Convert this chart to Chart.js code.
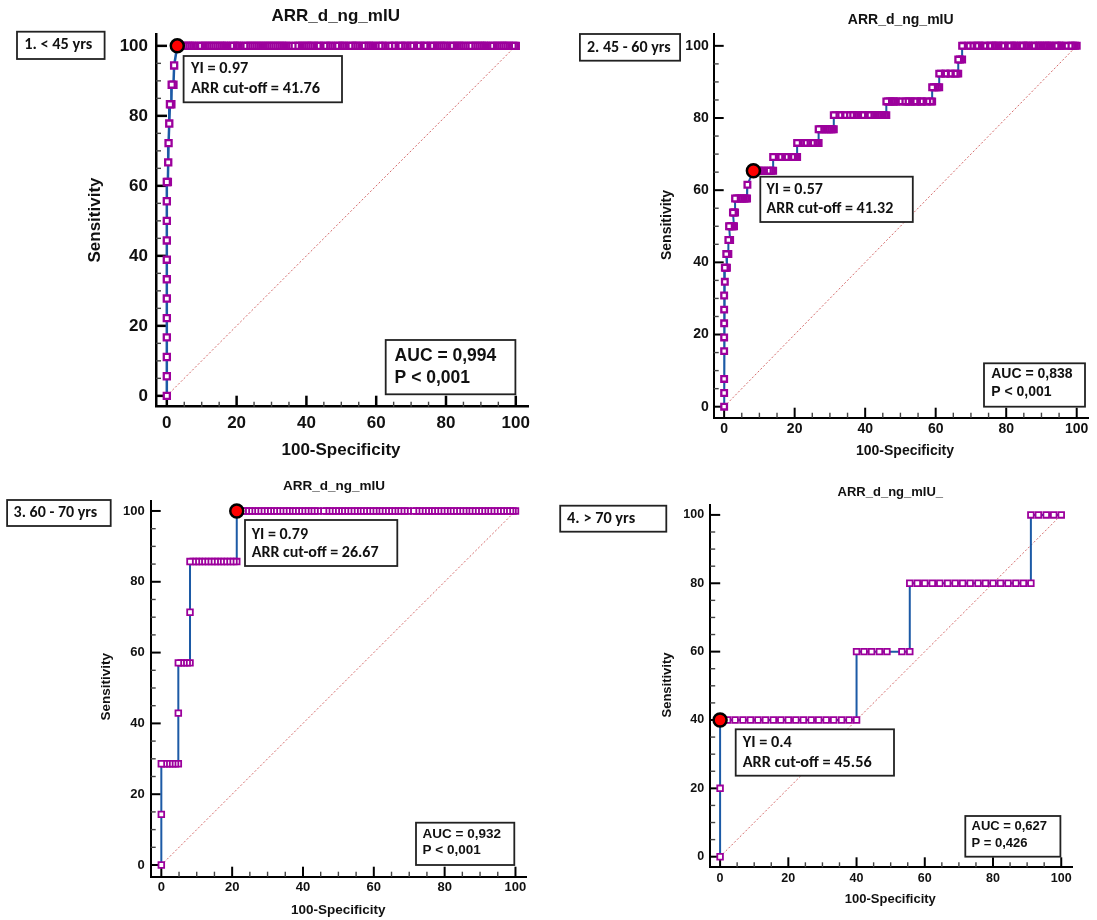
<!DOCTYPE html>
<html>
<head>
<meta charset="utf-8">
<title>ROC curves of ARR by age group</title>
<script src="https://cdn.jsdelivr.net/npm/chart.js@4.4.1/dist/chart.umd.min.js"></script>
<style>
  html, body { margin: 0; padding: 0; background: #fff; }
  #page { position: relative; width: 1097px; height: 920px; overflow: hidden; background: #fff; }
  #page canvas { position: absolute; }
</style>
</head>
<body>
<div id="page">
  <canvas id="roc1" width="548" height="460" style="left:0px;top:0px"></canvas>
  <canvas id="roc2" width="549" height="460" style="left:548px;top:0px"></canvas>
  <canvas id="roc3" width="548" height="460" style="left:0px;top:460px"></canvas>
  <canvas id="roc4" width="549" height="460" style="left:548px;top:460px"></canvas>
</div>
<script>
// ---- Texts ----
const ageGroups = ['1. < 45 yrs', '2. 45 - 60 yrs', '3. 60 - 70 yrs', '4. > 70 yrs'];
const variableNames = ['ARR_d_ng_mIU', 'ARR_d_ng_mIU', 'ARR_d_ng_mIU', 'ARR_d_ng_mIU_'];
const youdenIndex = ['0.97', '0.57', '0.79', '0.4'];
const arrCutoff = ['41.76', '41.32', '26.67', '45.56'];
const aucValues = ['0,994', '0,838', '0,932', '0,627'];
const pValues = ['P < 0,001', 'P < 0,001', 'P < 0,001', 'P = 0,426'];
const xAxisTitle = '100-Specificity';
const yAxisTitle = 'Sensitivity';
const axisTickValues = [0, 20, 40, 60, 80, 100];
const axisTickLabels = ['0', '20', '40', '60', '80', '100'];
const minorTickStep = 5;

// ---- Optimal criterion (Youden) points: 100-Specificity, Sensitivity ----
const optimalFpr = [3.0, 8.3, 21.3, 0];
const optimalSens = [100, 65.4, 100, 40];

// ---- ROC coordinates: [sensitivity, [100-specificity values at that sensitivity]] ----
const rocUnder45 = [
  [0, [0]], [5.6, [0]], [11.1, [0]], [16.7, [0]], [22.2, [0]], [27.8, [0]],
  [33.3, [0]], [38.9, [0]], [44.4, [0]], [50, [0]], [55.6, [0]],
  [61.1, [0, 0.3]], [66.7, [0.4]], [72.2, [0.5]], [77.8, [0.7]],
  [83.3, [0.9, 1.3]], [88.9, [1.4, 1.9]], [94.4, [2.1]],
  [100, [3.0, 3.6, 4.2, 4.8, 5.4, 6.0, 6.6, 7.1, 7.6, 8.1, 9.2, 9.8, 10.4, 11.0, 11.6, 12.2, 12.8, 13.4,
         14.0, 14.6, 15.2, 15.8, 16.4, 16.9, 17.3, 18.4, 19.0, 19.6, 20.1, 20.6, 21.1, 22.2, 22.8, 23.4,
         24.0, 24.6, 25.2, 25.8, 26.4, 27.0, 27.6, 28.2, 28.8, 29.4, 30.0, 30.6, 31.2, 31.8, 32.4, 33.0,
         33.6, 34.2, 34.9, 36.0, 37.0, 37.6, 38.2, 38.8, 39.4, 40.0, 40.6, 41.2, 41.6, 42.1, 43.2, 43.6,
         44.0, 45.1, 45.7, 46.3, 46.9, 47.4, 48.5, 49.1, 49.7, 50.3, 50.7, 51.2, 52.3, 52.9, 53.5, 54.1,
         54.5, 55.0, 56.1, 56.7, 57.3, 57.9, 58.5, 59.1, 59.8, 60.9, 61.5, 62.0, 62.6, 63.7, 64.7, 65.1,
         65.5, 66.6, 67.2, 67.8, 68.3, 68.9, 70.0, 70.4, 70.8, 71.9, 72.3, 72.7, 73.8, 74.2, 74.6, 75.7,
         76.3, 76.9, 77.5, 78.1, 78.7, 79.3, 79.8, 80.3, 81.4, 82.0, 82.6, 83.2, 83.8, 84.4, 85.0, 85.6,
         86.7, 87.3, 87.9, 88.5, 89.1, 89.7, 90.3, 90.9, 91.3, 91.8, 92.9, 93.5, 94.1, 94.7, 95.3, 95.9,
         96.5, 97.0, 97.5, 98.0, 99.1, 99.6, 100]]
];

const rocAge45to60 = [
  [0, [0]], [3.8, [0]], [7.7, [0]], [15.4, [0]], [19.2, [0]], [23.1, [0]], [26.9, [0]],
  [30.8, [0]], [34.6, [0.2]],
  [38.5, [0.2, 0.5, 0.8]],
  [42.3, [0.6, 0.9, 1.2]],
  [46.2, [1.2, 1.5, 1.7]],
  [50, [1.4, 1.8, 2.2, 2.5, 2.8]],
  [53.8, [2.5, 2.8, 3.1]],
  [57.7, [3.1, 3.6, 4.1, 4.6, 5.1, 5.6, 6.1, 6.5]],
  [61.5, [6.6]],
  [65.4, [8.3, 8.8, 9.3, 9.8, 10.3, 10.8, 11.3, 12.4, 12.9, 13.4, 13.9]],
  [69.2, [13.9, 14.3, 14.6, 15.7, 16.1, 16.4, 17.5, 17.8, 18.2, 19.3, 19.7, 20.2, 20.7]],
  [73.1, [20.7, 21.2, 21.8, 22.9, 23.4, 23.8, 24.9, 25.4, 25.9, 26.4, 26.8]],
  [76.9, [26.8, 27.3, 27.8, 28.3, 28.8, 29.3, 29.8, 30.3, 30.7, 31.1]],
  [80.8, [31.1, 31.6, 32.7, 33.0, 34.1, 35.0, 36.0, 36.5, 37.0, 37.5, 38.0, 39.2, 39.5, 39.9, 41.0,
          41.5, 42.0, 42.5, 43.0, 43.5, 44.0, 44.5, 45.0, 45.5, 46.0]],
  [84.6, [46.0, 46.5, 47.0, 47.5, 48.0, 48.3, 48.7, 49.8, 50.7, 51.7, 52.1, 52.5, 52.9, 54.0, 54.3,
          54.7, 55.8, 56.1, 56.5, 57.6, 58.6, 59.0]],
  [88.5, [59.0, 59.5, 60.0, 60.5, 61.0]],
  [92.3, [61.0, 61.5, 62.7, 62.9, 64.0, 64.3, 65.4, 65.9, 66.4]],
  [96.2, [66.4, 66.9, 67.5]],
  [100, [67.5, 68.0, 69.1, 70.0, 70.4, 71.5, 71.9, 72.3, 72.7, 73.8, 74.1, 75.2, 75.6, 76.1, 76.6,
         77.1, 77.5, 77.8, 78.9, 79.3, 79.6, 80.7, 81.2, 81.7, 82.2, 82.7, 83.1, 84.2, 84.7, 85.2,
         85.7, 86.2, 86.5, 87.6, 88.1, 88.6, 89.1, 89.6, 90.1, 90.6, 91.1, 91.6, 92.1, 92.5, 92.9,
         94.0, 94.5, 95.0, 95.4, 95.8, 96.9, 98.0, 98.5, 99.0, 99.5, 100]]
];

const rocAge60to70 = [
  [0, [0]], [14.3, [0]],
  [28.6, [0, 0.8, 1.6, 2.4, 3.2, 4.0, 4.8]],
  [42.9, [4.8]],
  [57.1, [4.8, 5.6, 6.4, 7.3, 8.1]],
  [71.4, [8.1]],
  [85.7, [8.1, 9.0, 9.9, 10.7, 11.6, 12.5, 13.4, 14.3, 15.2, 16.0, 16.9, 17.8, 18.7, 19.6, 20.5, 21.3]],
  [100, [21.3, 22.2, 23.1, 24.0, 24.9, 25.7, 26.6, 27.5, 28.4, 29.3, 30.2, 31.0, 31.9, 32.8, 33.7,
         34.6, 35.5, 36.3, 37.2, 38.1, 39.0, 39.9, 40.8, 41.6, 42.5, 43.4, 44.3, 45.8, 46.7, 47.6,
         48.5, 49.4, 50.2, 51.1, 52.0, 52.9, 53.8, 54.7, 55.5, 56.4, 57.3, 58.2, 59.1, 60.0, 60.8,
         61.7, 62.6, 63.5, 64.4, 65.3, 66.1, 67.0, 67.9, 68.8, 69.7, 71.2, 72.1, 73.0, 73.9, 74.8,
         75.6, 76.5, 77.4, 78.3, 79.2, 80.1, 80.9, 81.8, 82.7, 83.6, 84.5, 85.4, 86.2, 87.1, 88.0,
         88.9, 89.8, 90.7, 91.5, 92.4, 93.3, 94.2, 95.1, 96.0, 96.8, 97.7, 98.6, 99.3, 100]]
];

const rocOver70 = [
  [0, [0]], [20, [0]],
  [40, [0, 2.2, 4.4, 6.7, 8.9, 11.1, 13.3, 15.6, 17.8, 20.0, 22.2, 24.4, 26.7, 28.9, 31.1, 33.3, 35.6, 37.8, 40.0]],
  [60, [40.0, 42.2, 44.4, 46.7, 48.9, 53.3, 55.6]],
  [80, [55.6, 57.8, 60.0, 62.2, 64.4, 66.7, 68.9, 71.1, 73.3, 75.6, 77.8, 80.0, 82.2, 84.4, 86.7, 88.9, 91.1]],
  [100, [91.1, 93.3, 95.6, 97.8, 100]]
];

const rocCurves = [rocUnder45, rocAge45to60, rocAge60to70, rocOver70];

// ---- Styling ----
const ARIAL = "'Liberation Sans', Arial, sans-serif";
const LABEL_FONT = "Carlito, Lato, sans-serif";
const INK = '#111';
const CURVE_BLUE = '#1c5aa6';
const MARKER_PURPLE = '#9c009c';
const DIAGONAL_RED = 'rgba(205, 80, 80, 0.85)';

// Layout of each panel inside its own canvas (canvas-local pixels)
const panelLayout = [
  { id: 'roc1', w: 548, h: 460, area: { l: 156, t: 34.3, r: 528, b: 406.7 },
    x: [-3.1, 103.5], y: [-3.1, 103.3], tickFont: 17, padX: 6, padY: 8,
    axisW: 2.5, major: 11, minor: 5, lineW: 2.5, ptR: 4.3, ptBW: 2.3, dotR: 6.5,
    title: { x: 335.7, y: 16.7, size: 17 }, yTitle: { x: 95.7, y: 220, size: 17 }, xTitle: { x: 341, y: 450.7, size: 17 },
    group: { x: 17, y: 31.7, w: 87.6, h: 27.3, tx: 24.3, ty: 45.3, size: 16.3 },
    yi: { x: 183.6, y: 56, w: 158.4, h: 46.3, tx: 191, ty1: 69, ty2: 89, size: 16.3 },
    auc: { x: 385.7, y: 340, w: 129.7, h: 54.3, tx: 394.6, ty1: 355.7, ty2: 377.7, size: 17.5 } },
  { id: 'roc2', w: 549, h: 460, area: { l: 165.7, t: 34.3, r: 549, b: 417.7 },
    x: [-2.96, 103.2], y: [-3.05, 103.2], tickFont: 14, padX: 3, padY: 5,
    axisW: 2, major: 10, minor: 5, lineW: 2, ptR: 4, ptBW: 2.3, dotR: 6.5,
    title: { x: 352.7, y: 20, size: 14 }, yTitle: { x: 119.3, y: 225, size: 14 }, xTitle: { x: 357, y: 450.7, size: 14 },
    group: { x: 31.9, y: 34, w: 100.2, h: 26.7, tx: 39, ty: 47.7, size: 16 },
    yi: { x: 212.3, y: 176.7, w: 152.5, h: 45.3, tx: 218.5, ty1: 190, ty2: 209, size: 16 },
    auc: { x: 436, y: 363.3, w: 101, h: 43.4, tx: 443.2, ty1: 374.3, ty2: 391.7, size: 14 } },
  { id: 'roc3', w: 548, h: 460, area: { l: 150.7, t: 40.7, r: 526.8, b: 416.7 },
    x: [-3.0, 103.2], y: [-3.3, 102.9], tickFont: 13, padX: 3, padY: 6,
    axisW: 2, major: 10, minor: 5, lineW: 2, ptR: 4, ptBW: 1.8, dotR: 6.5,
    title: { x: 334, y: 26, size: 13.5 }, yTitle: { x: 106.4, y: 226.7, size: 13.5 }, xTitle: { x: 338.2, y: 450, size: 13.5 },
    group: { x: 7.1, y: 40, w: 103.6, h: 26, tx: 13.6, ty: 53.3, size: 16 },
    yi: { x: 245, y: 60, w: 152.3, h: 46, tx: 251.7, ty1: 75, ty2: 93.3, size: 16 },
    auc: { x: 416, y: 362.7, w: 98.3, h: 42.3, tx: 422.5, ty1: 374.3, ty2: 390.7, size: 13.5 } },
  { id: 'roc4', w: 549, h: 460, area: { l: 162.2, t: 45, r: 524.5, b: 407.3 },
    x: [-2.9, 103.3], y: [-3.1, 102.9], tickFont: 12.5, padX: 3.5, padY: 6,
    axisW: 2, major: 10, minor: 5, lineW: 2, ptR: 4, ptBW: 1.8, dotR: 6.5,
    title: { x: 342.3, y: 32.3, size: 13 }, yTitle: { x: 119.3, y: 225, size: 13 }, xTitle: { x: 342.3, y: 439.3, size: 13 },
    group: { x: 12.2, y: 45.7, w: 106.1, h: 26, tx: 19.1, ty: 59.3, size: 16.3 },
    yi: { x: 187.7, y: 269.3, w: 158.3, h: 46.4, tx: 194.7, ty1: 283.3, ty2: 302.7, size: 16.3 },
    auc: { x: 417.3, y: 356, w: 95.1, h: 40.7, tx: 423.5, ty1: 366.7, ty2: 383.3, size: 13 } }
];

// Flatten a curve into {x, y} points, ordered from the high-criterion end
// so the leftmost marker of each horizontal run is painted last.
function rocPoints(levels) {
  const pts = [];
  levels.forEach(([sens, fprs]) => fprs.forEach(fpr => pts.push({ x: fpr, y: sens })));
  return pts.reverse();
}

function boldFont(size, family) { return 'bold ' + size + 'px ' + family; }

// Tick marks pointing into the plot area (major every 20, minor every 5)
const innerTicks = {
  id: 'innerTicks',
  beforeDatasetsDraw(chart, args, o) {
    const { ctx, chartArea: a, scales: { x, y } } = chart;
    ctx.save();
    for (let v = 0; v <= 100; v += minorTickStep) {
      const isMajor = axisTickValues.includes(v);
      const len = isMajor ? o.major : o.minor;
      ctx.strokeStyle = isMajor ? '#000' : '#444';
      ctx.lineWidth = isMajor ? o.axisW : 1.4;
      const px = x.getPixelForValue(v);
      ctx.beginPath(); ctx.moveTo(px, a.bottom); ctx.lineTo(px, a.bottom - len); ctx.stroke();
      const py = y.getPixelForValue(v);
      ctx.beginPath(); ctx.moveTo(a.left, py); ctx.lineTo(a.left + len, py); ctx.stroke();
    }
    ctx.restore();
  }
};

function drawBox(ctx, b) {
  ctx.fillStyle = '#fff';
  ctx.fillRect(b.x, b.y, b.w, b.h);
  ctx.strokeStyle = '#222';
  ctx.lineWidth = 1.8;
  ctx.strokeRect(b.x, b.y, b.w, b.h);
}

// Titles, axis titles and the three text boxes of each panel
const panelText = {
  id: 'panelText',
  afterDraw(chart, args, o) {
    const i = o.index;
    const L = panelLayout[i];
    const ctx = chart.ctx;
    ctx.save();
    ctx.textBaseline = 'middle';
    ctx.fillStyle = INK;
    ctx.textAlign = 'center';
    ctx.font = boldFont(L.title.size, ARIAL);
    ctx.fillText(variableNames[i], L.title.x, L.title.y);
    ctx.font = boldFont(L.xTitle.size, ARIAL);
    ctx.fillText(xAxisTitle, L.xTitle.x, L.xTitle.y);
    ctx.save();
    ctx.translate(L.yTitle.x, L.yTitle.y);
    ctx.rotate(-Math.PI / 2);
    ctx.font = boldFont(L.yTitle.size, ARIAL);
    ctx.fillText(yAxisTitle, 0, 0);
    ctx.restore();

    ctx.textAlign = 'left';
    drawBox(ctx, L.group);
    ctx.fillStyle = INK;
    ctx.font = boldFont(L.group.size, LABEL_FONT);
    ctx.fillText(ageGroups[i], L.group.tx, L.group.ty);

    drawBox(ctx, L.yi);
    ctx.fillStyle = INK;
    ctx.font = boldFont(L.yi.size, LABEL_FONT);
    ctx.fillText('YI = ' + youdenIndex[i], L.yi.tx, L.yi.ty1);
    ctx.fillText('ARR cut-off = ' + arrCutoff[i], L.yi.tx, L.yi.ty2);

    drawBox(ctx, L.auc);
    ctx.fillStyle = INK;
    ctx.font = boldFont(L.auc.size, ARIAL);
    ctx.fillText('AUC = ' + aucValues[i], L.auc.tx, L.auc.ty1);
    ctx.fillText(pValues[i], L.auc.tx, L.auc.ty2);
    ctx.restore();
  }
};

panelLayout.forEach((L, i) => {
  const tickFont = { family: ARIAL, size: L.tickFont, weight: 'bold' };
  new Chart(document.getElementById(L.id), {
    type: 'line',
    data: {
      datasets: [
        { label: 'Optimal criterion', data: [{ x: optimalFpr[i], y: optimalSens[i] }],
          showLine: false, pointStyle: 'circle', pointRadius: L.dotR,
          pointBackgroundColor: '#ff0000', pointBorderColor: '#000', pointBorderWidth: 2.5,
          clip: false, order: 0 },
        { label: 'ROC curve', data: rocPoints(rocCurves[i]),
          borderColor: CURVE_BLUE, borderWidth: L.lineW, tension: 0,
          pointStyle: 'rect', pointRadius: L.ptR, pointBorderWidth: L.ptBW,
          pointBorderColor: MARKER_PURPLE, pointBackgroundColor: '#fff',
          clip: false, order: 1 },
        { label: 'Reference line', data: [{ x: 0, y: 0 }, { x: 100, y: 100 }],
          borderColor: DIAGONAL_RED, borderWidth: 1, borderDash: [2, 2], pointRadius: 0,
          clip: false, order: 2 }
      ]
    },
    options: {
      responsive: false,
      animation: false,
      devicePixelRatio: 1,
      events: [],
      layout: { padding: { left: 0, top: L.area.t, right: L.w - L.area.r, bottom: 0 } },
      plugins: {
        legend: { display: false },
        tooltip: { enabled: false },
        title: { display: false },
        innerTicks: { major: L.major, minor: L.minor, axisW: L.axisW },
        panelText: { index: i }
      },
      scales: {
        x: {
          type: 'linear', position: 'bottom', min: L.x[0], max: L.x[1],
          grid: { display: false, drawTicks: false },
          border: { display: true, color: '#000', width: L.axisW },
          ticks: { font: tickFont, color: INK, padding: L.padX, autoSkip: false, maxRotation: 0,
                   callback: (v, idx) => axisTickLabels[idx] },
          afterBuildTicks: s => { s.ticks = axisTickValues.map(v => ({ value: v })); },
          afterFit: s => { s.height = L.h - L.area.b; s.paddingLeft = 0; s.paddingRight = 0; }
        },
        y: {
          type: 'linear', position: 'left', min: L.y[0], max: L.y[1],
          grid: { display: false, drawTicks: false },
          border: { display: true, color: '#000', width: L.axisW },
          ticks: { font: tickFont, color: INK, padding: L.padY, autoSkip: false,
                   callback: (v, idx) => axisTickLabels[idx] },
          afterBuildTicks: s => { s.ticks = axisTickValues.map(v => ({ value: v })); },
          afterFit: s => { s.width = L.area.l; s.paddingTop = 0; s.paddingBottom = 0; }
        }
      }
    },
    plugins: [innerTicks, panelText]
  });
});
</script>
</body>
</html>
